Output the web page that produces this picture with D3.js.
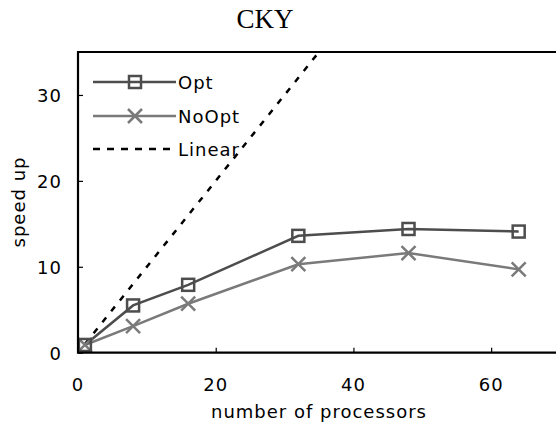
<!DOCTYPE html>
<html>
<head>
<meta charset="utf-8">
<script src="https://cdn.jsdelivr.net/npm/d3@7"></script>
<style>
  body { margin: 0; background: #fff; }
  text { font-family: "DejaVu Sans", sans-serif; font-size: 18px; letter-spacing: 1px; fill: #000; }
  text.title { font-family: "Liberation Serif", "DejaVu Serif", serif; font-size: 27px; letter-spacing: 0; }
</style>
</head>
<body>
<div id="chart"></div>
<script>
// data
var processors = [1, 8, 16, 32, 48, 64];
var opt = [0.9, 5.5, 7.9, 13.6, 14.4, 14.1];
var noOpt = [0.9, 3.1, 5.7, 10.3, 11.6, 9.7];
var linear = [1, 8, 16, 32, 48, 64];
var xTicks = [0, 20, 40, 60];
var yTicks = [0, 10, 20, 30];

var margin = { top: 52, left: 78, bottom: 74 },
    W = 556, H = 427;

var svg = d3.select("#chart").append("svg")
    .attr("width", W)
    .attr("height", H);

var x = d3.scaleLinear().domain([0, 70]).range([margin.left, 560]);
var y = d3.scaleLinear().domain([0, 35]).range([H - margin.bottom - 0.3, margin.top]);

svg.append("defs").append("clipPath")
    .attr("id", "clip")
    .append("rect")
    .attr("x", x(0)).attr("y", y(35))
    .attr("width", x(70) - x(0)).attr("height", y(0) - y(35));

// title
svg.append("text")
    .attr("class", "title")
    .attr("x", 265).attr("y", 28)
    .attr("text-anchor", "middle")
    .text("CKY");

// axes with inward ticks
svg.append("g")
    .attr("transform", "translate(0," + y(0) + ")")
    .call(d3.axisTop(x).tickValues(xTicks).tickSize(5).tickFormat(""))
    .call(g => g.select(".domain").remove())
    .selectAll("line").attr("stroke", "#000").attr("stroke-width", 1.2);

svg.append("g")
    .attr("transform", "translate(" + x(0) + ",0)")
    .call(d3.axisRight(y).tickValues(yTicks).tickSize(5).tickFormat(""))
    .call(g => g.select(".domain").remove())
    .selectAll("line").attr("stroke", "#000").attr("stroke-width", 1.2);

// tick labels
svg.selectAll(".xlab").data(xTicks).enter().append("text")
    .attr("x", d => x(d)).attr("y", 391)
    .attr("text-anchor", "middle")
    .text(d => d);

svg.selectAll(".ylab").data(yTicks).enter().append("text")
    .attr("x", 62).attr("y", d => y(d) + 7)
    .attr("text-anchor", "end")
    .text(d => d);

svg.append("text")
    .attr("x", 319).attr("y", 418)
    .attr("text-anchor", "middle")
    .text("number of processors");

svg.append("text")
    .attr("transform", "translate(25,202) rotate(-90)")
    .attr("text-anchor", "middle")
    .text("speed up");

var plot = svg.append("g").attr("clip-path", "url(#clip)");

var line = d3.line()
    .x((d, i) => x(processors[i]))
    .y(d => y(d));

plot.append("path")
    .datum(linear)
    .attr("fill", "none")
    .attr("stroke", "#000")
    .attr("stroke-width", 2.5)
    .attr("stroke-dasharray", "6,8")
    .attr("d", line);

plot.append("path")
    .datum(noOpt)
    .attr("fill", "none")
    .attr("stroke", "#7a7a7a")
    .attr("stroke-width", 2.5)
    .attr("d", line);

plot.append("path")
    .datum(opt)
    .attr("fill", "none")
    .attr("stroke", "#4d4d4d")
    .attr("stroke-width", 2.5)
    .attr("d", line);

function square(g, cx, cy) {
    g.append("rect")
        .attr("x", cx - 6).attr("y", cy - 6)
        .attr("width", 12).attr("height", 12)
        .attr("fill", "none")
        .attr("stroke", "#4d4d4d")
        .attr("stroke-width", 2.5);
}

function cross(g, cx, cy) {
    g.append("path")
        .attr("d", "M" + (cx - 7) + "," + (cy - 7) + "L" + (cx + 7) + "," + (cy + 7) +
            "M" + (cx - 7) + "," + (cy + 7) + "L" + (cx + 7) + "," + (cy - 7))
        .attr("stroke", "#7a7a7a")
        .attr("stroke-width", 2.5);
}

noOpt.forEach((d, i) => cross(svg, x(processors[i]), y(d)));
opt.forEach((d, i) => square(svg, x(processors[i]), y(d)));

// frame
svg.append("path")
    .attr("d", "M" + x(70) + "," + y(35) + "H" + x(0) + "V" + y(0) + "H" + x(70))
    .attr("fill", "none")
    .attr("stroke", "#000")
    .attr("stroke-width", 2.2);

// legend
var legend = [
    { label: "Opt", y: 82, color: "#4d4d4d", mark: square, dash: null },
    { label: "NoOpt", y: 116, color: "#7a7a7a", mark: cross, dash: null },
    { label: "Linear", y: 149, color: "#000", mark: null, dash: "7,7" }
];
legend.forEach(function(l) {
    svg.append("line")
        .attr("x1", 93).attr("x2", 176)
        .attr("y1", l.y).attr("y2", l.y)
        .attr("stroke", l.color)
        .attr("stroke-width", 2.5)
        .attr("stroke-dasharray", l.dash);
    if (l.mark) l.mark(svg, 135, l.y);
    svg.append("text")
        .attr("x", 178).attr("y", l.y + 7)
        .text(l.label);
});
</script>
</body>
</html>
